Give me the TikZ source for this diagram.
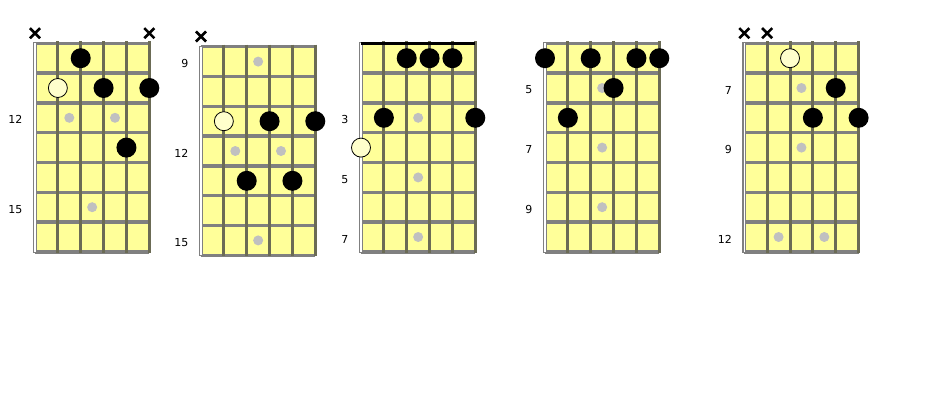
\documentclass[tikz,border=0pt]{standalone}
\usepackage{fontspec}
\setmainfont{DejaVu Sans}
\usetikzlibrary{shapes.misc}

\definecolor{board}{HTML}{FFFF99}
\definecolor{fretgray}{HTML}{808080}
\definecolor{stringgray}{HTML}{6B6B55}
\definecolor{inlaygray}{HTML}{C0C0C0}
\definecolor{rootfill}{HTML}{FFFFCC}

\tikzset{
  finger/.style={circle,fill=black,minimum size=20pt,inner sep=0pt},
  root/.style={circle,draw=black,line width=0.8pt,fill=rootfill,minimum size=19pt,inner sep=0pt},
  inlay/.style={circle,fill=inlaygray,minimum size=10pt,inner sep=0pt},
  mute/.style={cross out,draw=black,line width=2.6pt,minimum size=7.5pt,inner sep=0pt},
  fretnum/.style={anchor=east,font=\fontsize{11}{13}\selectfont,inner sep=0pt,yshift=-2pt}
}

\newcommand{\fretboard}{%
  \fill[board] (0,0) rectangle (5,7);
  \foreach \f in {0,...,7} \draw[fretgray,line width=3.4pt] (0,\f) -- (5,\f);
  \foreach \s in {1,...,5} \draw[stringgray,line width=3pt] (\s,-0.07) -- (\s,7.03);
  \draw[fretgray,line width=4pt] (0,-0.03) -- (0,7.03);
  \draw[white,line width=1.5pt] (0,0) -- (0,7);
}

\begin{document}
\begin{tikzpicture}[x=22.86pt,y=-29.8pt]
\fill[white] (0pt,0pt) rectangle (932pt,-400pt);
\useasboundingbox (0pt,0pt) rectangle (932pt,-400pt);

% first shape
\begin{scope}[shift={(35pt,-43.3pt)}]
  \fretboard
  \node[mute] (a-x1) at (0,-0.34) {};
  \node[mute] (a-x6) at (5,-0.34) {};
  \node[inlay] (a-i1) at (1.5,2.5) {};
  \node[inlay] (a-i2) at (3.5,2.5) {};
  \node[inlay] (a-i3) at (2.5,5.5) {};
  \node[finger] (a-3) at (2,0.5) {};
  \node[root] (a-2) at (1,1.5) {};
  \node[finger] (a-4) at (3,1.5) {};
  \node[finger] (a-6) at (5,1.5) {};
  \node[finger] (a-5) at (4,3.5) {};
  \node[fretnum] (a-n12) at (-0.54,2.5) {12};
  \node[fretnum] (a-n15) at (-0.54,5.5) {15};
\end{scope}

% second shape
\begin{scope}[shift={(201pt,-46.7pt)}]
  \fretboard
  \node[mute] (b-x1) at (0,-0.34) {};
  \node[inlay] (b-i1) at (2.5,0.5) {};
  \node[inlay] (b-i2) at (1.5,3.5) {};
  \node[inlay] (b-i3) at (3.5,3.5) {};
  \node[inlay] (b-i4) at (2.5,6.5) {};
  \node[root] (b-2) at (1,2.5) {};
  \node[finger] (b-4) at (3,2.5) {};
  \node[finger] (b-6) at (5,2.5) {};
  \node[finger] (b-3) at (2,4.5) {};
  \node[finger] (b-5) at (4,4.5) {};
  \node[fretnum] (b-n9) at (-0.54,0.5) {9};
  \node[fretnum] (b-n12) at (-0.54,3.5) {12};
  \node[fretnum] (b-n15) at (-0.54,6.5) {15};
\end{scope}

% third shape, open position
\begin{scope}[shift={(361pt,-43.3pt)}]
  \fretboard
  \draw[black,line width=3.6pt] (0,0) -- (5,0);
  \node[inlay] (c-i1) at (2.5,2.5) {};
  \node[inlay] (c-i2) at (2.5,4.5) {};
  \node[inlay] (c-i3) at (2.5,6.5) {};
  \node[finger] (c-3) at (2,0.5) {};
  \node[finger] (c-4) at (3,0.5) {};
  \node[finger] (c-5) at (4,0.5) {};
  \node[finger] (c-2) at (1,2.5) {};
  \node[finger] (c-6) at (5,2.5) {};
  \node[root] (c-1) at (0,3.5) {};
  \node[fretnum] (c-n3) at (-0.54,2.5) {3};
  \node[fretnum] (c-n5) at (-0.54,4.5) {5};
  \node[fretnum] (c-n7) at (-0.54,6.5) {7};
\end{scope}

% fourth shape
\begin{scope}[shift={(545pt,-43.3pt)}]
  \fretboard
  \node[inlay] (d-i1) at (2.5,1.5) {};
  \node[inlay] (d-i2) at (2.5,3.5) {};
  \node[inlay] (d-i3) at (2.5,5.5) {};
  \node[finger] (d-1) at (0,0.5) {};
  \node[finger] (d-3) at (2,0.5) {};
  \node[finger] (d-5) at (4,0.5) {};
  \node[finger] (d-6) at (5,0.5) {};
  \node[finger] (d-4) at (3,1.5) {};
  \node[finger] (d-2) at (1,2.5) {};
  \node[fretnum] (d-n5) at (-0.54,1.5) {5};
  \node[fretnum] (d-n7) at (-0.54,3.5) {7};
  \node[fretnum] (d-n9) at (-0.54,5.5) {9};
\end{scope}

% fifth shape
\begin{scope}[shift={(744.3pt,-43.3pt)}]
  \fretboard
  \node[mute] (e-x1) at (0,-0.34) {};
  \node[mute] (e-x2) at (1,-0.34) {};
  \node[inlay] (e-i1) at (2.5,1.5) {};
  \node[inlay] (e-i2) at (2.5,3.5) {};
  \node[inlay] (e-i3) at (1.5,6.5) {};
  \node[inlay] (e-i4) at (3.5,6.5) {};
  \node[root] (e-3) at (2,0.5) {};
  \node[finger] (e-5) at (4,1.5) {};
  \node[finger] (e-4) at (3,2.5) {};
  \node[finger] (e-6) at (5,2.5) {};
  \node[fretnum] (e-n7) at (-0.54,1.5) {7};
  \node[fretnum] (e-n9) at (-0.54,3.5) {9};
  \node[fretnum] (e-n12) at (-0.54,6.5) {12};
\end{scope}
\end{tikzpicture}
\end{document}
